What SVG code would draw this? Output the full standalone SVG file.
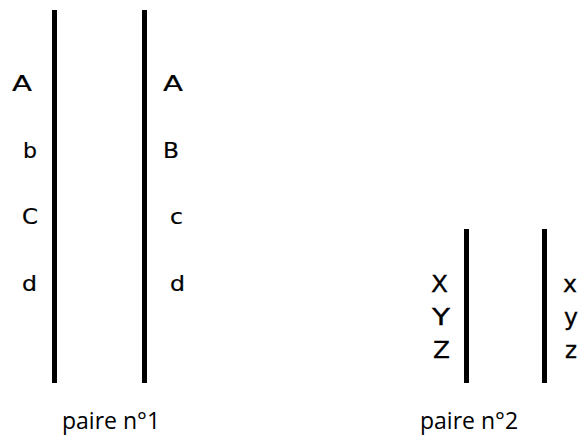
<svg xmlns="http://www.w3.org/2000/svg" width="579" height="441" viewBox="0 0 579 441">
<style>
.ln{stroke:#000;stroke-width:5;fill:none}
.lt{font-family:"DejaVu Sans",Verdana,sans-serif;font-size:21px;fill:#000;stroke:#000;stroke-width:0.2}
.lt2{font-family:"DejaVu Sans",Verdana,sans-serif;font-size:23px;fill:#000;stroke:#000;stroke-width:0.3}
.cap{font-family:"Open Sans","Liberation Sans",sans-serif;font-size:23px;fill:#000}
</style>
<rect width="579" height="441" fill="#fff"/>
<g id="connectors">
<line class="ln" x1="54.5" y1="10" x2="54.5" y2="383"/>
<line class="ln" x1="144.5" y1="10" x2="144.5" y2="383"/>
<line class="ln" x1="466.5" y1="229" x2="466.5" y2="383"/>
<line class="ln" x1="544.5" y1="229" x2="544.5" y2="383"/>
</g>
<g id="chrom1a">
<text class="lt" x="12" y="91" textLength="20" lengthAdjust="spacingAndGlyphs">A</text>
<text class="lt" x="23" y="158" textLength="14" lengthAdjust="spacingAndGlyphs">b</text>
<text class="lt" x="22" y="224" textLength="16" lengthAdjust="spacingAndGlyphs">C</text>
<text class="lt" x="22" y="291" textLength="15" lengthAdjust="spacingAndGlyphs">d</text>
</g>
<g id="chrom1b">
<text class="lt" x="163" y="91" textLength="20" lengthAdjust="spacingAndGlyphs">A</text>
<text class="lt" x="163" y="158" textLength="16" lengthAdjust="spacingAndGlyphs">B</text>
<text class="lt" x="170" y="224" textLength="13" lengthAdjust="spacingAndGlyphs">c</text>
<text class="lt" x="170" y="291" textLength="15" lengthAdjust="spacingAndGlyphs">d</text>
</g>
<g id="chrom2a">
<text class="lt2" x="431" y="292" textLength="17" lengthAdjust="spacingAndGlyphs">X</text>
<text class="lt2" x="432" y="325" textLength="18" lengthAdjust="spacingAndGlyphs">Y</text>
<text class="lt2" x="433" y="358" textLength="17" lengthAdjust="spacingAndGlyphs">Z</text>
</g>
<g id="chrom2b">
<text class="lt2" x="563" y="292" textLength="14" lengthAdjust="spacingAndGlyphs">x</text>
<text class="lt2" x="564" y="325" textLength="14" lengthAdjust="spacingAndGlyphs">y</text>
<text class="lt2" x="565" y="358" textLength="12" lengthAdjust="spacingAndGlyphs">z</text>
</g>
<g id="labels">
<text class="cap" x="62" y="429">paire n°1</text>
<text class="cap" x="420" y="429">paire n°2</text>
</g>
</svg>
